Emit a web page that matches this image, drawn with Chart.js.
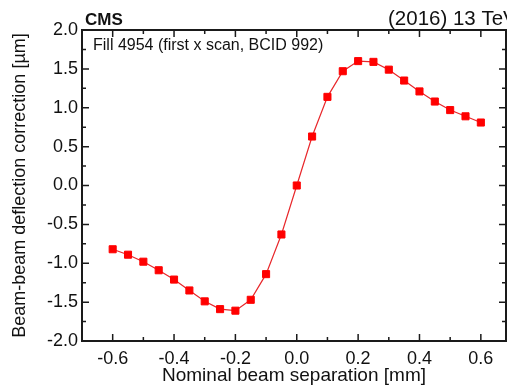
<!DOCTYPE html>
<html>
<head>
<meta charset="utf-8">
<script src="https://cdn.jsdelivr.net/npm/chart.js@4.4.1/dist/chart.umd.min.js"></script>
<style>
  html, body { margin: 0; padding: 0; background: #fff; }
  #wrap { width: 507px; height: 388px; position: relative; overflow: hidden; }
</style>
</head>
<body>
<div id="wrap"><canvas id="deflection"></canvas></div>
<script>
// beam separation scan points [mm]
const separation = [
  -0.6, -0.55, -0.5, -0.45, -0.4, -0.35, -0.3, -0.25, -0.2, -0.15, -0.1, -0.05,
  0.0, 0.05, 0.1, 0.15, 0.2, 0.25, 0.3, 0.35, 0.4, 0.45, 0.5, 0.55, 0.6
];
// beam-beam deflection correction [um]
const correction = [
  -0.82, -0.89, -0.98, -1.09, -1.21, -1.35, -1.49, -1.59, -1.61, -1.47, -1.14, -0.63,
  0.0, 0.63, 1.14, 1.47, 1.60, 1.59, 1.49, 1.35, 1.21, 1.08, 0.97, 0.89, 0.81
];

const xTicks = [-0.6, -0.4, -0.2, 0.0, 0.2, 0.4, 0.6];
const xMinor = [-0.7, -0.5, -0.3, -0.1, 0.1, 0.3, 0.5];
const yTicks = [-2.0, -1.5, -1.0, -0.5, 0.0, 0.5, 1.0, 1.5, 2.0];
const yMinor = [-1.75, -1.25, -0.75, -0.25, 0.25, 0.75, 1.25, 1.75];

const FONT = "'Liberation Sans', Arial, Helvetica, sans-serif";

// frame with inward ticks on all four sides, plus the header texts
const framePlugin = {
  id: "frame",
  afterDraw(chart) {
    const { ctx, chartArea: a, scales } = chart;
    const xs = scales.x, ys = scales.y;
    ctx.save();
    ctx.strokeStyle = "#1a1a1a";
    ctx.lineWidth = 1.5;
    ctx.beginPath();
    const tick = (vals, len) => {
      vals.forEach((v) => {
        const px = xs.getPixelForValue(v);
        ctx.moveTo(px, a.bottom); ctx.lineTo(px, a.bottom - len);
        ctx.moveTo(px, a.top); ctx.lineTo(px, a.top + len);
      });
    };
    const ytick = (vals, len) => {
      vals.forEach((v) => {
        const py = ys.getPixelForValue(v);
        ctx.moveTo(a.left, py); ctx.lineTo(a.left + len, py);
        ctx.moveTo(a.right, py); ctx.lineTo(a.right - len, py);
      });
    };
    tick(xTicks, 7);
    tick(xMinor, 4);
    ytick(yTicks, 7);
    ytick(yMinor, 4);
    ctx.stroke();

    ctx.lineWidth = 2;
    ctx.strokeRect(a.left, a.top, a.right - a.left, a.bottom - a.top);

    ctx.fillStyle = "#111";
    ctx.textBaseline = "alphabetic";
    ctx.textAlign = "left";
    ctx.font = "bold 17px " + FONT;
    ctx.fillText("CMS", 85, 25);
    ctx.font = "20.5px " + FONT;
    ctx.fillText("(2016) 13 TeV", 388, 25);
    ctx.font = "16px " + FONT;
    ctx.fillText("Fill 4954 (first x scan, BCID 992)", 93, 50);
    ctx.restore();
  },
};

new Chart(document.getElementById("deflection"), {
  type: "scatter",
  data: {
    datasets: [
      {
        data: separation.map((x, i) => ({ x: x, y: correction[i] })),
        showLine: true,
        borderColor: "#e8262a",
        borderWidth: 1.2,
        backgroundColor: "#ff0000",
        pointStyle: "rect",
        pointRadius: 5,
        pointBorderWidth: 1,
        pointBorderColor: "#ff0000",
      },
    ],
  },
  options: {
    responsive: true,
    maintainAspectRatio: false,
    animation: false,
    layout: { autoPadding: false, padding: { top: 30, right: 1, left: 0, bottom: 0 } },
    plugins: { legend: { display: false }, tooltip: { enabled: false } },
    scales: {
      x: {
        type: "linear",
        min: -0.7,
        max: 0.682,
        grid: { display: false, drawTicks: false },
        border: { display: false },
        afterBuildTicks: (s) => { s.ticks = xTicks.map((v) => ({ value: v })); },
        afterFit: (s) => { s.height = 47; s.paddingLeft = 0; s.paddingRight = 0; },
        ticks: {
          padding: 7,
          color: "#111",
          font: { family: FONT, size: 18 },
          callback: (v) => Number(v).toFixed(1),
        },
        title: {
          display: true,
          text: "Nominal beam separation [mm]",
          color: "#111",
          font: { family: FONT, size: 19 },
          padding: { top: 0, bottom: 1 },
        },
      },
      y: {
        min: -2,
        max: 2,
        grid: { display: false, drawTicks: false },
        border: { display: false },
        afterBuildTicks: (s) => { s.ticks = yTicks.map((v) => ({ value: v })); },
        afterFit: (s) => { s.width = 82; s.paddingTop = 0; s.paddingBottom = 0; },
        ticks: {
          padding: 4,
          color: "#111",
          font: { family: FONT, size: 18 },
          callback: (v) => Number(v).toFixed(1),
        },
        title: {
          display: true,
          text: "Beam-beam deflection correction [µm]",
          color: "#111",
          font: { family: FONT, size: 18 },
          padding: { top: 9, bottom: 0 },
        },
      },
    },
  },
  plugins: [framePlugin],
});
</script>
</body>
</html>
